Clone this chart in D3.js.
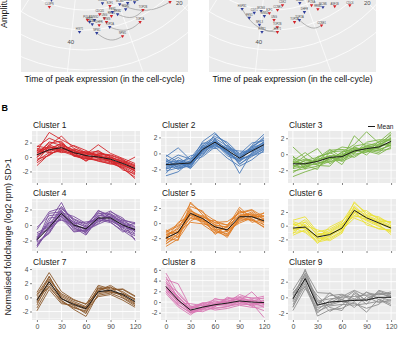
<!DOCTYPE html>
<html><head><meta charset="utf-8">
<script src="https://cdn.jsdelivr.net/npm/d3@7"></script>
<style>body{margin:0;background:#fff}svg{display:block}text{font-family:"Liberation Sans",Arial,Helvetica,sans-serif}</style>
</head><body><svg id="c" width="408" height="337"></svg>
<script>
// ---------------- DATA ----------------
const timepoints = [0, 15, 30, 45, 60, 75, 90, 105, 120];
const xTicks = [0, 30, 60, 90, 120];
const clusterNames = ["Cluster 1","Cluster 2","Cluster 3","Cluster 4","Cluster 5","Cluster 6","Cluster 7","Cluster 8","Cluster 9"];
const clusterColors = ["#d4272b","#4a7bb9","#7cb548","#7a4f9f","#e07d26","#ebe23a","#8c5a2c","#d878b4","#8f8f8f"];
const yLimits = [[-3.6,3.6],[-3.7,2.8],[-3.6,2.9],[-3.35,3.35],[-3.7,3.2],[-3.7,3.9],[-3.2,4.15],[-3.35,6.35],[-2.9,3.75]];
const yTicks = [[-2,0,2],[-2,0,2],[-2,0,2],[-2,0,2],[-2,0,2],[-2,0,2],[-2,0,2,4],[-2,0,2,4,6],[-2,0,2]];
const clusterMeans = [
  [0.3, 1.0, 1.3, 0.6, 0.2, 0.0, -0.3, -0.9, -1.6],
  [-1.4, -1.3, -1.2, 0.5, 1.4, 0.4, -0.6, 0.3, 1.1],
  [-1.2, -1.2, -0.9, -0.4, -0.3, 0.4, 0.7, 0.9, 1.6],
  [-1.9, -0.3, 1.5, 0.0, -0.5, 0.9, 0.9, 0.0, -0.6],
  [-2.0, -1.2, 1.3, 0.6, -0.5, -0.9, 0.85, 0.85, 0.3],
  [-0.35, -0.2, -1.65, -1.3, -0.35, 2.25, 1.15, 0.4, -0.35],
  [-0.4, 2.2, -0.2, -1.0, -1.6, 0.8, 1.0, 0.4, -0.6],
  [2.9, 0.35, -1.5, -0.95, -0.5, -0.2, 0.2, 0.0, -0.1],
  [-0.2, 2.4, -1.0, -0.6, -0.5, -0.4, -0.35, 0.0, 0.0]
];
const clusterGenes = [
 [[1.5,1.2,1.8,0.9,0.5,0.3,-0.1,-0.6,-1.2],[-1.2,0.4,1.0,0.3,-0.2,-0.3,-0.6,-1.3,-2.2],[0.8,3.4,2.4,1.5,0.6,0.8,0.0,-0.7,-1.5],
  [0.2,1.6,2.9,1.2,0.5,0.2,-0.4,-1.1,-2.0],[-0.5,0.6,0.8,0.2,-0.3,-0.4,-0.8,-1.6,-2.8],[0.9,1.4,1.1,0.7,0.4,1.7,0.5,-0.2,-0.9],
  [0.3,2.1,1.6,1.0,0.0,0.1,-0.2,-0.8,-1.4],[1.2,0.9,1.5,0.4,0.8,0.2,-0.5,-1.0,-1.9],[-0.8,0.3,1.2,0.8,0.1,-0.6,-0.9,-1.4,-2.5],
  [0.5,1.9,2.2,0.3,-0.5,0.4,0.2,-0.4,-1.1],[0.0,1.1,0.6,1.1,0.6,-0.2,-0.4,-1.2,-1.8],[1.4,2.6,1.9,0.6,0.3,0.6,0.1,-0.9,0.0],
  [-0.3,0.2,1.4,0.5,-0.1,0.3,-0.7,-1.5,-3.0],[0.6,1.3,0.9,1.6,0.9,0.0,-0.1,-0.5,-1.3],[1.0,0.6,1.7,0.1,-0.2,-0.5,-1.0,-0.7,-1.7],
  [-0.1,1.7,1.0,0.9,0.2,0.9,-0.3,-1.8,-2.3],[0.7,0.8,2.0,0.2,0.1,-0.1,-0.6,-1.1,-1.6],[-0.6,1.5,0.7,0.6,-0.6,0.5,0.3,-0.3,-2.0]],
 [[-1.0,-1.5,-1.3,0.7,1.6,0.6,-0.4,0.5,1.4],[-2.2,-1.8,-1.6,0.2,1.1,0.0,-1.0,0.0,0.8],[-0.4,0.7,-0.8,0.9,1.9,0.9,-0.2,0.8,1.9],
  [-1.7,-1.0,-1.9,-0.2,1.0,0.3,-1.3,-0.4,0.6],[-2.8,-2.3,-1.0,0.4,2.4,1.2,-0.6,0.4,1.2],[-0.8,-1.2,-0.6,1.3,1.3,-0.3,-0.9,1.0,2.4],
  [-1.4,-0.5,-1.5,0.6,1.7,0.5,0.3,0.2,0.9],[-1.9,-1.6,-0.9,-0.4,0.8,-0.6,-1.6,-0.8,0.4],[-0.2,-1.1,-1.2,1.1,2.1,1.4,-0.1,1.3,1.6],
  [-1.2,-2.0,-1.4,0.3,1.5,0.2,-2.5,0.1,1.2],[-2.5,-0.8,-1.7,0.8,0.9,0.7,-0.5,0.6,2.1],[-1.5,-1.4,-0.3,0.0,1.2,0.1,-0.8,-0.3,0.2],
  [-0.6,-1.9,-1.1,1.5,2.6,0.8,-0.3,0.5,1.0],[-1.8,-1.2,-1.8,0.5,1.4,0.4,-1.1,0.9,1.7],[-1.1,-0.2,-0.7,0.2,1.8,-0.1,-0.7,-0.2,0.5],
  [-2.0,-1.3,-1.4,1.0,0.6,1.0,0.0,0.3,1.5],[-1.3,-0.9,-1.0,-0.1,1.5,0.2,-0.5,0.7,1.3],[-0.9,-1.7,-1.3,0.4,1.2,0.6,-1.4,-0.1,0.7]],
 [[-1.0,-1.3,-0.7,-0.2,-0.1,0.6,0.9,1.2,1.9],[-2.1,-1.8,-1.5,-0.9,-0.7,0.0,0.3,0.5,1.2],[0.9,-0.5,-1.2,-0.6,0.2,0.8,0.4,1.0,1.4],
  [-1.5,-0.8,-0.4,0.2,-0.5,0.2,1.1,0.7,2.2],[-0.6,-1.6,-1.1,-0.8,0.3,1.2,2.8,1.4,1.0],[-2.8,-2.2,-1.7,-0.4,-0.9,-0.2,0.5,0.8,2.6],
  [-1.3,-0.2,0.7,-1.2,-0.3,0.5,0.2,1.6,1.7],[-0.4,-1.0,-0.9,0.5,0.6,0.3,0.8,0.4,0.7],[-1.8,-1.5,-0.6,-0.3,-1.3,1.0,1.3,1.1,2.0],
  [-1.1,-0.6,-1.4,-1.5,0.1,-0.4,0.6,0.2,1.5],[-0.2,-1.9,-0.3,0.1,0.9,0.7,-0.1,1.3,2.4],[-1.6,-1.1,-0.8,-0.5,-0.6,2.3,0.9,0.6,1.1],
  [-2.3,-1.4,-1.9,0.3,0.4,0.1,1.5,1.8,1.8],[-0.8,0.2,-1.0,-1.0,-0.2,0.9,0.4,0.0,0.9],[-1.4,-1.7,-0.5,0.6,-0.4,0.4,1.0,1.5,2.8],
  [-0.9,-1.2,-1.3,-0.6,-0.1,0.3,0.7,0.8,1.6],[-1.7,-0.7,-0.9,-0.2,-0.8,0.6,0.6,1.0,1.3]],
 [[-1.5,0.2,1.8,0.3,-0.2,1.2,1.1,0.3,-0.3],[-2.6,-0.8,1.0,-0.4,-0.9,0.5,0.6,-0.4,-1.2],[-0.6,1.7,2.2,0.8,0.1,1.5,1.4,0.7,0.1],
  [-2.2,-1.1,1.3,0.4,-1.2,0.7,0.3,-0.7,-1.8],[-1.8,0.5,2.9,-0.2,-0.4,1.9,1.0,0.2,-0.5],[-2.9,-0.4,0.8,-0.8,-0.6,0.2,1.7,0.9,-0.9],
  [-1.2,-0.6,1.6,1.1,0.2,0.9,0.5,-0.2,0.2],[-2.0,0.9,1.1,-0.1,-1.0,1.3,0.9,-0.6,-1.4],[-1.0,-0.2,2.4,0.5,-0.3,0.4,1.2,0.5,-0.2],
  [-2.4,-1.0,1.9,-0.6,-0.8,1.6,0.7,0.0,-0.8],[-1.6,0.3,0.6,0.2,0.4,0.6,1.5,0.1,-1.1],[-0.3,1.2,1.4,-0.3,-1.3,1.0,0.4,-0.9,-0.4],
  [-2.7,-0.5,2.1,0.7,-0.1,1.8,1.3,0.4,-2.0],[-1.7,0.0,1.2,-0.9,-0.7,0.1,0.8,-0.3,-0.7],[-2.1,1.5,1.7,0.1,-0.5,1.1,1.8,0.6,0.3],
  [-1.9,-0.3,1.5,0.0,-0.6,0.8,1.0,-0.1,-0.6]],
 [[-1.6,-0.8,1.6,0.9,-0.2,-0.6,1.1,1.2,0.6],[-2.7,-1.8,0.8,0.1,-1.0,-1.4,0.4,0.5,-0.2],[-1.1,-0.2,2.6,1.4,0.3,-0.3,1.6,1.0,1.3],
  [-2.3,-1.5,1.1,0.4,-0.8,-1.9,0.7,1.5,0.1],[-3.1,-2.1,0.3,1.0,-0.3,-0.5,2.1,0.6,-0.6],[-1.8,-0.6,1.9,-0.2,-1.3,-1.1,0.2,0.9,0.9],
  [-1.3,-1.3,1.4,0.8,0.1,0.2,1.3,1.7,0.4],[-2.5,-1.0,0.6,0.5,-0.6,-1.6,0.9,0.3,1.4],[-0.9,-1.9,2.2,1.6,-0.9,-0.8,0.5,1.3,-0.3],
  [-2.1,0.1,1.0,0.2,0.4,-1.2,1.8,0.1,0.5],[-2.8,-1.4,1.7,0.7,-1.5,-0.4,1.0,1.1,0.0],[-1.5,-1.1,0.1,-0.1,-0.4,-0.9,0.0,0.7,1.0],
  [-2.0,-2.3,2.8,1.1,0.0,-0.2,1.4,1.8,0.8],[-1.2,-0.4,1.3,0.3,-1.1,-1.7,0.6,0.4,-0.5],[-1.9,-1.2,1.2,0.6,-0.5,-1.0,0.8,0.9,0.2]],
 [[0.1,0.5,-1.3,-1.0,0.0,2.6,1.5,0.8,0.0],[-1.0,-0.8,-2.2,-1.8,-0.8,1.8,0.7,-0.1,-0.9],[0.8,1.3,-0.9,-0.5,0.5,3.3,1.9,1.1,0.4],
  [-0.6,0.2,-2.0,-1.6,-0.2,1.5,0.9,0.2,-1.3],[-1.4,-0.6,-1.5,-2.2,-1.1,2.9,1.2,0.5,-0.2],[0.4,-0.4,-2.6,-0.9,0.2,2.0,2.2,0.9,0.5],
  [-0.2,0.9,-1.1,-1.4,-0.6,1.1,0.4,-0.5,-0.6],[-0.8,-0.1,-1.8,-0.2,0.7,2.4,1.0,0.0,-1.0],[0.6,0.0,-0.6,-1.2,-0.4,3.5,1.6,1.3,0.2],
  [-0.3,-1.0,-2.4,-2.0,-0.9,2.2,0.1,-0.4,-0.7],[-1.2,0.6,-1.4,-0.7,0.3,1.3,1.4,0.6,0.6],[0.2,-0.5,-1.9,-1.5,-0.1,2.7,0.8,0.3,-0.4],
  [-0.5,-0.3,-1.6,-1.1,-0.5,2.0,1.2,0.6,-0.2]],
 [[0.2,2.6,0.3,-0.6,-1.3,1.2,1.4,0.8,-0.3],[-1.5,1.6,-0.7,-1.4,-2.1,0.3,0.6,-0.1,-1.2],[0.7,3.5,0.8,-0.3,-1.0,1.7,1.2,1.1,0.1],
  [-0.8,1.9,-0.4,-1.7,-2.7,0.5,0.8,0.3,-0.9],[-1.9,1.1,-0.9,-1.1,-1.7,1.0,1.7,0.6,-0.4],[0.4,2.9,0.1,-0.8,-1.5,0.1,0.4,-0.4,-1.4],
  [-0.3,2.2,-0.1,-1.2,-2.3,1.5,1.0,1.2,0.2],[-1.1,2.4,0.5,-0.4,-0.9,0.7,0.9,0.2,-0.7],[0.0,1.4,-0.5,-1.5,-1.9,0.9,1.5,0.0,-1.0],
  [-0.6,3.0,-0.2,-0.9,-1.4,1.3,0.7,0.5,-0.2]],
 [[3.3,0.8,-1.2,-0.6,-0.2,0.1,0.5,0.3,0.2],[2.0,-0.4,-2.1,-1.5,-1.1,-0.8,-0.4,-0.5,-0.6],[5.4,1.5,-0.9,-0.3,0.4,0.5,1.0,0.8,0.6],
  [2.5,0.0,-1.8,-1.3,-0.7,-0.4,0.0,-0.2,-2.9],[4.2,3.4,-1.0,-1.1,-0.4,0.2,0.6,-0.3,-0.2],[1.6,-0.9,-2.4,-0.8,-1.5,-1.2,-0.6,-1.0,-0.9],
  [3.7,0.4,-1.4,-0.2,0.0,-0.1,1.4,0.6,1.1],[2.8,1.1,-1.6,-1.8,-0.9,0.7,0.3,1.9,-0.4],[3.0,-0.2,-0.3,-0.7,-0.5,-0.6,-0.3,-0.4,0.3],
  [4.7,0.6,-2.0,-1.2,0.7,0.0,0.8,0.1,-1.0],[2.2,0.2,-1.3,-0.4,-1.2,-0.9,0.1,-0.7,0.0],[3.5,1.8,-0.7,-1.4,-0.3,0.4,-0.2,0.5,-0.5],
  [1.9,-0.6,-1.9,-1.0,0.2,-0.3,0.9,0.2,0.8],[4.0,0.9,-1.1,-0.1,-0.8,0.9,0.4,-0.8,-1.6],[2.6,0.5,-1.7,-0.9,-0.6,-0.3,0.2,0.1,-0.3]],
 [[0.3,2.9,-0.5,-0.2,0.0,0.1,0.3,0.4,0.5],[-1.2,1.5,-1.8,-1.1,-0.9,-1.0,-0.8,-0.5,-0.6],[0.9,3.4,0.6,0.5,-0.3,0.8,-0.5,0.8,0.2],
  [-0.6,2.1,-2.4,-1.6,-1.4,-0.6,-1.9,-0.2,-0.9],[-1.7,1.1,-0.8,0.2,0.4,-0.2,0.6,0.3,0.7],[0.5,2.7,-1.3,-0.9,-0.2,-1.3,0.1,-0.7,-0.3],
  [-0.1,3.1,-0.2,-1.8,-1.0,0.4,-0.9,0.9,0.4],[-0.9,1.8,-1.6,-0.4,0.3,-0.5,0.7,-0.3,-1.1],[0.6,2.3,0.2,-1.3,-1.7,0.6,-0.4,0.5,0.1],
  [-0.4,3.6,-1.1,0.6,-0.6,-0.8,-1.4,-0.9,0.6],[0.2,1.3,-2.0,-0.7,0.1,0.9,0.2,0.0,-0.4],[-1.3,2.5,-0.6,-1.0,-0.5,-0.3,-0.2,0.6,0.0]]
];

// Panel A (polar, cropped): [label, time of peak, amplitude, condition]
const polarThetaLabels = [20, 40];
const polarGrid = [2.5, 3.0, 3.5, 4.0];
const polarSpokes = [0,10,20,30,40,50,60,70,80,90,100,110,120,130];
const leftGenes = [
 ["CDT1",45.5,2.40,"b"],["CLSPN",45.4,2.58,"r"],["CCNE2",33.5,2.37,"b"],["E2F1",32,2.48,"r"],["MCM3",29.8,2.51,"b"],
 ["MCM5",28.1,2.56,"b"],["PCNA",26.7,2.62,"b"],["CDC6",21.1,3.13,"r"],["TOP2B",26,2.89,"r"],["RRM2",30.9,2.73,"b"],
 ["RRM1",32.2,2.73,"r"],["UNG",33.7,2.75,"r"],["CDC45",34.5,2.63,"r"],["GINS2",35.7,2.76,"b"],["HIST1",36.7,2.80,"b"],
 ["H2AX",36.2,2.86,"b"],["DHFR",34.9,2.90,"r"],["TYMS",33.4,2.85,"r"],["TOP2A",33,2.99,"b"],["TOP2A",27.5,3.12,"r"],
 ["HIST1",38.6,3.05,"b"],["NPM1",35.5,3.09,"b"],["NPM1",31.2,3.29,"r"],["POLA1",37.1,2.75,"r"],["FEN1",31.8,2.64,"b"],["MSH2",29,2.68,"b"]
];
const leftLinks = [[18,19],[21,22],[4,7],[9,8]];
const rightGenes = [
 ["HSPB1",44.3,2.59,"b"],["CDT1",41.6,2.61,"b"],["MCM4",40.2,2.54,"b"],["E2F1",38.4,2.58,"r"],["CCNE1",36.6,2.50,"r"],
 ["CDK2",35.4,2.39,"r"],["MCM2",31.4,2.42,"b"],["PCNA",29.1,2.57,"r"],["RRM2",28.2,2.72,"r"],["MCM6",27.1,2.73,"b"],
 ["ASF1B",25.0,2.86,"r"],["CDC6",22.6,3.06,"r"],["TOP2A",32.4,2.83,"b"],["TOP2A",33.4,2.85,"r"],["UNG",37.4,2.75,"r"],
 ["NFIL3",40.2,2.89,"b"],["TOP2B",36.8,2.93,"r"],["HIST1",36.8,3.05,"r"],["HIST1",39.6,3.06,"b"],["CCNE1",28.8,3.13,"r"],
 ["FEN1",42.4,2.76,"b"],["GINS2",39.4,2.66,"b"],["DHFR",31,2.67,"b"]
];
const rightLinks = [[0,17],[12,19],[15,16]];

// ---------------- DRAW ----------------
const svg = d3.select("#c");
svg.append("rect").attr("width",408).attr("height",337).attr("fill","#fff");
const defs = svg.append("defs");

// ---- Panel A ----
const condColor = {r:"#d42228", b:"#2e3d9a"};
const rScale = d3.scaleLinear().domain([0,4]).range([0,160]);
const tScale = d3.scaleLinear().domain([20,40]).range([45.6,-6.2]);
function polarPt(cx, cy, t, a){
  const phi = tScale(t)*Math.PI/180, r = rScale(a);
  return [cx + r*Math.sin(phi), cy + r*Math.cos(phi)];
}
[{x0:21, genes:leftGenes, links:leftLinks, id:"pa"},{x0:209, genes:rightGenes, links:rightLinks, id:"pb"}].forEach(p=>{
  const W=167, H=72, cx=p.x0+64, cy=-90;
  defs.append("clipPath").attr("id",p.id).append("rect").attr("x",p.x0).attr("y",0).attr("width",W).attr("height",H);
  const g = svg.append("g").attr("clip-path",`url(#${p.id})`);
  g.append("rect").attr("x",p.x0).attr("y",0).attr("width",W).attr("height",H).attr("fill","#ebebeb");
  polarSpokes.forEach(t=>{
    const [x1,y1]=polarPt(cx,cy,t,0), [x2,y2]=polarPt(cx,cy,t,4.6);
    g.append("line").attr("x1",x1).attr("y1",y1).attr("x2",x2).attr("y2",y2).attr("stroke","#fff").attr("stroke-width",0.7);
  });
  polarGrid.forEach(a=>{
    g.append("circle").attr("cx",cx).attr("cy",cy).attr("r",rScale(a)).attr("fill","none").attr("stroke","#fff").attr("stroke-width",0.8);
  });
  polarThetaLabels.forEach(t=>{
    const [x,y]=polarPt(cx,cy,t,3.3);
    g.append("text").attr("x",x).attr("y",y+2.5).attr("text-anchor","middle").attr("font-size",6).attr("fill","#4d4d4d").text(t);
  });
  const line = d3.line();
  p.links.forEach(([i,j])=>{
    const A=p.genes[i], B=p.genes[j];
    const pts = d3.range(0,1.0001,0.1).map(f=>polarPt(cx,cy,A[1]+(B[1]-A[1])*f, A[2]+(B[2]-A[2])*f + Math.sin(f*Math.PI)*0.12));
    g.append("path").attr("d",line(pts)).attr("fill","none").attr("stroke","#8a8a8a").attr("stroke-width",0.6);
  });
  p.genes.forEach(d=>{
    const [x,y]=polarPt(cx,cy,d[1],d[2]);
    g.append("path").attr("d",d3.symbol(d3.symbolTriangle,5)()).attr("transform",`translate(${x},${y}) rotate(180)`).attr("fill",condColor[d[3]]);
    g.append("text").attr("x",x).attr("y",y-1.8).attr("text-anchor","middle").attr("font-size",2.6).attr("fill","#444").text(d[0]);
  });
  svg.append("text").attr("x",p.x0+W/2).attr("y",82).attr("text-anchor","middle").attr("font-size",8.6).attr("fill","#111")
     .text("Time of peak expression (in the cell-cycle)");
});
svg.append("text").attr("transform","translate(7,28) rotate(-90)").attr("font-size",9).attr("fill","#222").text("Amplitude");

// ---- Panel B ----
svg.append("text").attr("x",1.5).attr("y",111).attr("font-size",9).attr("font-weight","bold").attr("fill","#000").text("B");
svg.append("text").attr("transform","translate(10.5,237) rotate(-90)").attr("text-anchor","middle").attr("font-size",8.8).attr("fill","#222")
   .text("Normalised foldchange (log2 rpm) SD>1");

const colX=[32,161,288], rowY=[131,199,268], PW=108, PH=52;
clusterNames.forEach((name,i)=>{
  const x0=colX[i%3], row=Math.floor(i/3), y0=rowY[row];
  const x = d3.scaleLinear().domain([-6,126]).range([x0,x0+PW]);
  const y = d3.scaleLinear().domain(yLimits[i]).range([y0+PH,y0]);
  const cid="clip"+i;
  defs.append("clipPath").attr("id",cid).append("rect").attr("x",x0).attr("y",y0).attr("width",PW).attr("height",PH);
  const g = svg.append("g");
  g.append("rect").attr("x",x0).attr("y",y0).attr("width",PW).attr("height",PH).attr("fill","#ebebeb");
  const yt = yTicks[i], step = yt[1]-yt[0];
  const yMinor = d3.range(yt[0]-step/2, yt[yt.length-1]+step, step).filter(v=>v>yLimits[i][0]&&v<yLimits[i][1]);
  yMinor.forEach(v=>g.append("line").attr("x1",x0).attr("x2",x0+PW).attr("y1",y(v)).attr("y2",y(v)).attr("stroke","#fff").attr("stroke-width",0.45));
  [15,45,75,105].forEach(v=>g.append("line").attr("x1",x(v)).attr("x2",x(v)).attr("y1",y0).attr("y2",y0+PH).attr("stroke","#fff").attr("stroke-width",0.45));
  yt.forEach(v=>g.append("line").attr("x1",x0).attr("x2",x0+PW).attr("y1",y(v)).attr("y2",y(v)).attr("stroke","#fff").attr("stroke-width",0.9));
  xTicks.forEach(v=>g.append("line").attr("x1",x(v)).attr("x2",x(v)).attr("y1",y0).attr("y2",y0+PH).attr("stroke","#fff").attr("stroke-width",0.9));
  const line = d3.line().x((d,k)=>x(timepoints[k])).y(d=>y(d));
  const dg = g.append("g").attr("clip-path",`url(#${cid})`);
  clusterGenes[i].forEach(s=>dg.append("path").attr("d",line(s)).attr("fill","none").attr("stroke",clusterColors[i]).attr("stroke-width",1.0).attr("stroke-opacity",0.9));
  dg.append("path").attr("d",line(clusterMeans[i])).attr("fill","none").attr("stroke","#1a1a1a").attr("stroke-width",1);
  const ya = g.append("g").attr("transform",`translate(${x0},0)`).call(d3.axisLeft(y).tickValues(yt).tickSize(2).tickPadding(1.5).tickFormat(d3.format("d")));
  ya.select(".domain").remove();
  ya.selectAll("line").attr("stroke","#333").attr("stroke-width",0.6);
  ya.selectAll("text").attr("font-size",6.6).attr("fill","#4d4d4d").attr("font-family","Liberation Sans, Arial, sans-serif").text(d=>String(d));
  const xa = g.append("g").attr("transform",`translate(0,${y0+PH})`).call(d3.axisBottom(x).tickValues(xTicks).tickSize(2).tickPadding(2).tickFormat(row===2?d3.format("d"):()=>""));
  xa.select(".domain").remove();
  xa.selectAll("line").attr("stroke","#333").attr("stroke-width",0.6);
  xa.selectAll("text").attr("font-size",7).attr("fill","#4d4d4d").attr("font-family","Liberation Sans, Arial, sans-serif");
  g.append("text").attr("x",x0+1).attr("y",y0-2.8).attr("font-size",8.4).attr("fill","#1a1a1a").text(name);
});
svg.append("line").attr("x1",368).attr("x2",375).attr("y1",126.5).attr("y2",126.5).attr("stroke","#1a1a1a").attr("stroke-width",1);
svg.append("text").attr("x",377).attr("y",129).attr("font-size",6.6).attr("fill","#1a1a1a").text("Mean");
</script></body></html>
